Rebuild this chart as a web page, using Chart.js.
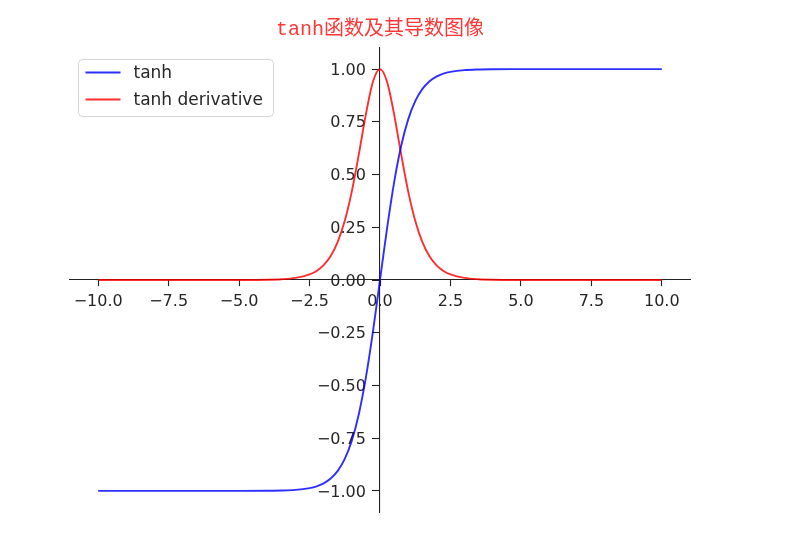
<!DOCTYPE html>
<html>
<head>
<meta charset="utf-8">
<script src="https://cdn.jsdelivr.net/npm/chart.js@4"></script>
<style>
  html, body { margin: 0; padding: 0; background: #fff; }
  #c { display: block; }
</style>
</head>
<body>
<canvas id="c" width="799" height="533"></canvas>
<script>
const titleText = 'tanh函数及其导数图像';
const seriesNames = ['tanh', 'tanh derivative'];
const xValues = [-10, -8, -6, -5, -4, -3.5, -3, -2.5, -2.25, -2, -1.75, -1.5, -1.25, -1, -0.75, -0.5, -0.25, 0,
                 0.25, 0.5, 0.75, 1, 1.25, 1.5, 1.75, 2, 2.25, 2.5, 3, 3.5, 4, 5, 6, 8, 10];
const tanhValues = [-1.0, -1.0, -1.0, -0.9999, -0.9993, -0.9982, -0.9951, -0.9866, -0.9783, -0.9640, -0.9414, -0.9051, -0.8483, -0.7616, -0.6351, -0.4621, -0.2449, 0,
                    0.2449, 0.4621, 0.6351, 0.7616, 0.8483, 0.9051, 0.9414, 0.9640, 0.9783, 0.9866, 0.9951, 0.9982, 0.9993, 0.9999, 1.0, 1.0, 1.0];
const derivValues = [0.0, 0.0, 0.0, 0.0002, 0.0013, 0.0036, 0.0099, 0.0266, 0.0429, 0.0707, 0.1138, 0.1807, 0.2804, 0.4200, 0.5966, 0.7864, 0.9400, 1.0,
                     0.9400, 0.7864, 0.5966, 0.4200, 0.2804, 0.1807, 0.1138, 0.0707, 0.0429, 0.0266, 0.0099, 0.0036, 0.0013, 0.0002, 0.0, 0.0, 0.0];
const xTicks = [-10, -7.5, -5, -2.5, 0, 2.5, 5, 7.5, 10];
const yTicks = [-1, -0.75, -0.5, -0.25, 0, 0.25, 0.5, 0.75, 1];

const toPoints = (ys) => xValues.map((x, i) => ({ x: x, y: ys[i] }));
const fmt = (v, d) => (v < 0 ? '\u2212' : '') + Math.abs(v).toFixed(d);

const mplLegend = {
  id: 'mplLegend',
  afterDraw(chart) {
    const ctx = chart.ctx;
    const a = chart.chartArea;
    const bx = a.left + 8.5, by = a.top + 11.5, bw = 195, bh = 57, r = 4;
    ctx.save();
    ctx.beginPath();
    ctx.moveTo(bx + r, by);
    ctx.lineTo(bx + bw - r, by);
    ctx.quadraticCurveTo(bx + bw, by, bx + bw, by + r);
    ctx.lineTo(bx + bw, by + bh - r);
    ctx.quadraticCurveTo(bx + bw, by + bh, bx + bw - r, by + bh);
    ctx.lineTo(bx + r, by + bh);
    ctx.quadraticCurveTo(bx, by + bh, bx, by + bh - r);
    ctx.lineTo(bx, by + r);
    ctx.quadraticCurveTo(bx, by, bx + r, by);
    ctx.closePath();
    ctx.fillStyle = 'rgba(255,255,255,0.8)';
    ctx.fill();
    ctx.strokeStyle = '#d4d4d4';
    ctx.lineWidth = 1;
    ctx.stroke();
    chart.data.datasets.forEach((ds, i) => {
      const y = by + 13 + i * 27;
      ctx.beginPath();
      ctx.moveTo(bx + 7, y);
      ctx.lineTo(bx + 42, y);
      ctx.strokeStyle = ds.borderColor;
      ctx.lineWidth = 1.9;
      ctx.stroke();
      ctx.fillStyle = '#262626';
      ctx.font = '17px "DejaVu Sans"';
      ctx.textBaseline = 'middle';
      ctx.textAlign = 'left';
      ctx.fillText(ds.label, bx + 55, y + 1);
    });
    ctx.restore();
  }
};

const axisColor = '#222';
const tickFont = { family: '"DejaVu Sans"', size: 16 };

new Chart(document.getElementById('c'), {
  type: 'scatter',
  data: {
    datasets: [
      { label: seriesNames[0], data: toPoints(tanhValues), showLine: true, borderColor: 'rgba(0,0,255,0.82)', borderWidth: 1.9, pointRadius: 0, cubicInterpolationMode: 'monotone', fill: false },
      { label: seriesNames[1], data: toPoints(derivValues), showLine: true, borderColor: 'rgba(255,0,0,0.82)', borderWidth: 1.9, pointRadius: 0, cubicInterpolationMode: 'monotone', fill: false }
    ]
  },
  options: {
    responsive: false,
    animation: false,
    devicePixelRatio: 1,
    layout: { padding: { left: 70, right: 109, top: 0, bottom: 21 } },
    plugins: {
      legend: { display: false },
      tooltip: { enabled: false },
      title: {
        display: true,
        text: titleText,
        color: 'rgb(255,55,55)',
        font: { family: '"Liberation Mono", "Noto Sans CJK SC"', size: 20, weight: 'normal', lineHeight: 1.2 },
        padding: { top: 18, bottom: 6 }
      }
    },
    scales: {
      x: {
        type: 'linear',
        position: { y: 0 },
        min: -11, max: 11,
        border: { display: true, color: axisColor, width: 1.1 },
        grid: { display: true, drawOnChartArea: false, drawTicks: true, tickLength: 6, tickColor: axisColor, tickWidth: 1.1 },
        afterBuildTicks: (s) => { s.ticks = xTicks.map(v => ({ value: v })); },
        ticks: { color: '#262626', font: tickFont, padding: 6, maxRotation: 0, autoSkip: false, callback: (v) => fmt(v, 1) }
      },
      y: {
        type: 'linear',
        position: { x: 0 },
        min: -1.1, max: 1.1,
        border: { display: true, color: axisColor, width: 1.1 },
        grid: { display: true, drawOnChartArea: false, drawTicks: true, tickLength: 7, tickColor: axisColor, tickWidth: 1.1 },
        afterBuildTicks: (s) => { s.ticks = yTicks.map(v => ({ value: v })); },
        ticks: { display: false }
      },
      yLabels: {
        type: 'linear',
        axis: 'y',
        position: { x: -0.5 },
        min: -1.1, max: 1.1,
        border: { display: false },
        grid: { display: false },
        afterBuildTicks: (s) => { s.ticks = yTicks.map(v => ({ value: v })); },
        ticks: { color: '#262626', font: tickFont, labelOffset: 1.5, autoSkip: false, callback: (v) => fmt(v, 2) }
      }
    }
  },
  plugins: [mplLegend]
});
</script>
</body>
</html>
